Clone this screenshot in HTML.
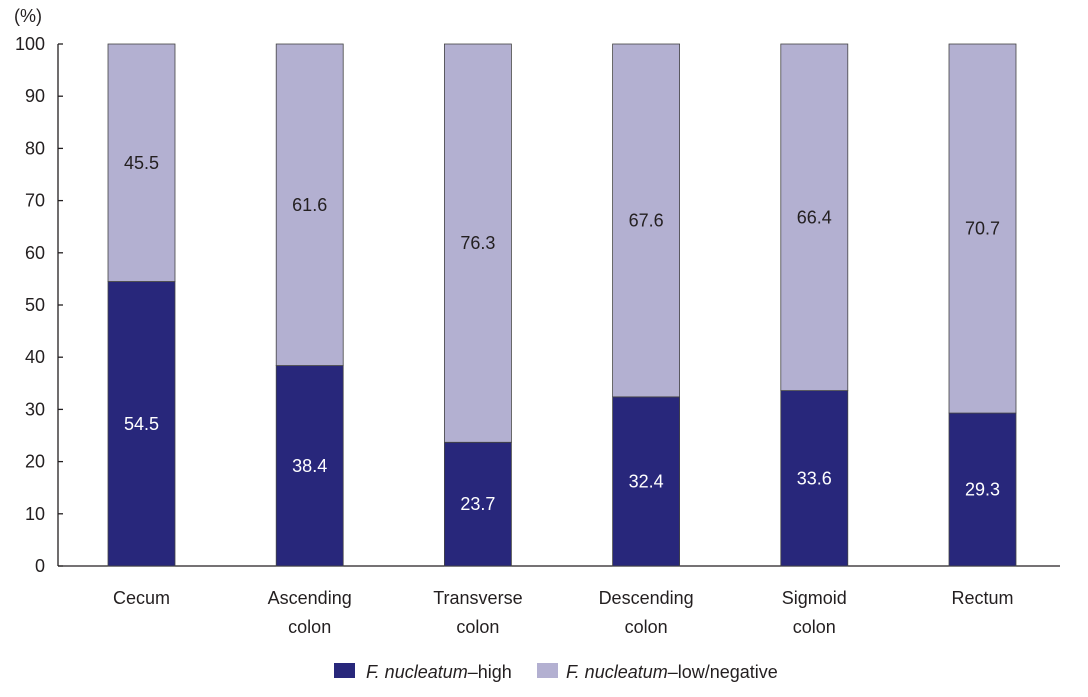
<!DOCTYPE html>
<html><head><meta charset="utf-8"><style>
body{margin:0;background:#fff;}
svg text{font-family:"Liberation Sans",Arial,sans-serif;fill:#231f20;}
</style></head><body>
<svg id="chart" width="1088" height="692" xmlns="http://www.w3.org/2000/svg">
<text x="14" y="22" font-size="18">(%)</text>
<g id="axes"></g><g id="bars"></g>
<g>
<rect x="334" y="663" width="21" height="15" fill="#28277b"/>
<text x="366" y="678" font-size="18"><tspan font-style="italic">F. nucleatum</tspan>–high</text>
<rect x="537" y="663" width="21" height="15" fill="#b3b0d1"/>
<text x="566" y="678" font-size="18"><tspan font-style="italic">F. nucleatum</tspan>–low/negative</text>
</g>
</svg>
<script>
const categories=[["Cecum"],["Ascending","colon"],["Transverse","colon"],["Descending","colon"],["Sigmoid","colon"],["Rectum"]];
const highValues=[54.5,38.4,23.7,32.4,33.6,29.3];
const lowValues=[45.5,61.6,76.3,67.6,66.4,70.7];
const yTicks=[0,10,20,30,40,50,60,70,80,90,100];
const NS="http://www.w3.org/2000/svg";
const y0=566,y100=44,xAxis=58,firstCenter=141.5,step=168.2,bw=67;
const y=v=>y0-(y0-y100)*v/100;
const xc=i=>firstCenter+i*step;
function mk(tag,attrs,parent){const e=document.createElementNS(NS,tag);for(const k in attrs)e.setAttribute(k,attrs[k]);parent.appendChild(e);return e;}
const ax=document.getElementById('axes'),bars=document.getElementById('bars');
let l=mk('line',{x1:xAxis,y1:y(100),x2:xAxis,y2:y0,stroke:'#231f20','stroke-width':1.3},ax);


l=mk('line',{x1:xAxis,y1:y0,x2:1060,y2:y0,stroke:'#231f20','stroke-width':1.3},ax);


yTicks.forEach(t=>{
 const tk=mk('line',{x1:xAxis,y1:y(t),x2:xAxis+5,y2:y(t),stroke:'#231f20','stroke-width':1.3},ax);
 
 
 const tx=mk('text',{x:45,y:y(t)+6,'font-size':18,'text-anchor':'end'},ax);
 tx.textContent=t;
 
 
});
categories.forEach((c,i)=>{
 const cx=xc(i),h=highValues[i],lo=lowValues[i];
 const r1=mk('rect',{x:cx-bw/2,y:y(h),width:bw,height:y0-y(h),fill:'#28277b',stroke:'#444','stroke-width':0.8},bars);
 
 
 const r2=mk('rect',{x:cx-bw/2,y:y(h+lo),width:bw,height:y(h)-y(h+lo),fill:'#b3b0d1',stroke:'#444','stroke-width':0.8},bars);
 
 
 const t1=mk('text',{x:cx,y:(y0+y(h))/2+6,'font-size':18,'text-anchor':'middle',style:'fill:#fff'},bars);
 t1.textContent=h.toFixed(1);
 
 
 const t2=mk('text',{x:cx,y:(y(h)+y(h+lo))/2+6,'font-size':18,'text-anchor':'middle'},bars);
 t2.textContent=lo.toFixed(1);
 
 
 c.forEach((line,j)=>{
  const ct=mk('text',{x:cx,y:604+j*29,'font-size':18,'text-anchor':'middle'},bars);
  ct.textContent=line;
  
  
 });
});
</script>
</body></html>
